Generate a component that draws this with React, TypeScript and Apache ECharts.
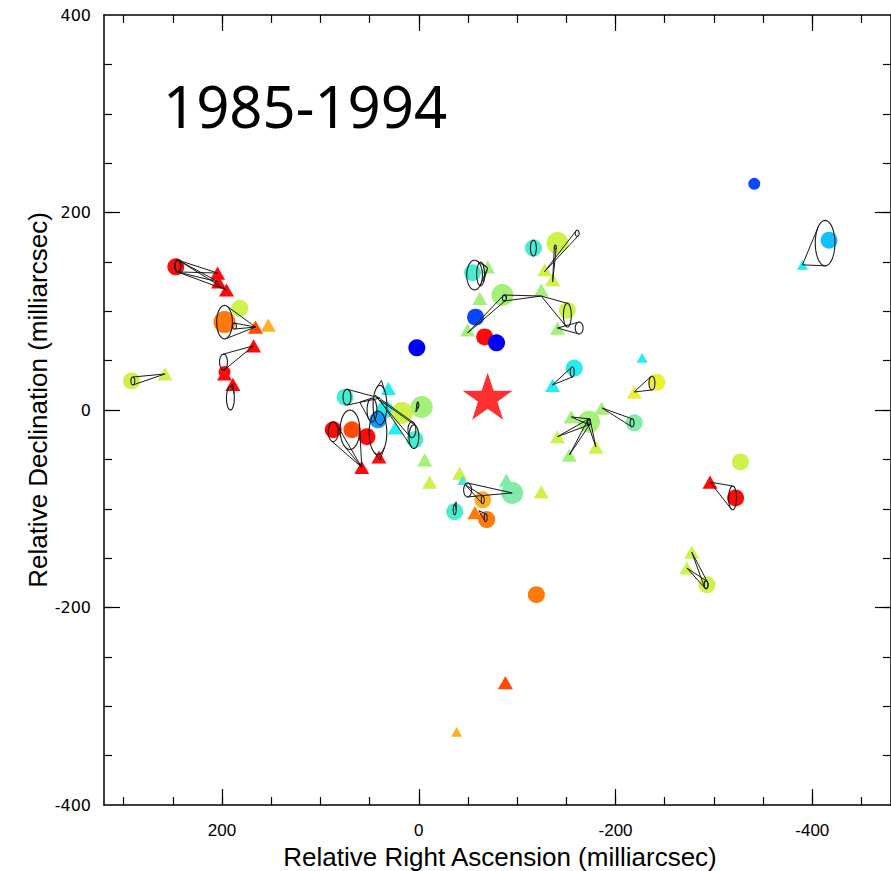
import React, { useEffect, useRef } from "react";
import * as echarts from "echarts";

// Velocity channel colours, from most blue-shifted (0) to most red-shifted (13)
const channelColors = [
  "#0000f5", "#0a46ff", "#0a9cff", "#12bfff", "#22eef0", "#48ecd0", "#80eca8",
  "#a4f07a", "#cdf24a", "#eaf034", "#ffae28", "#ff7a0a", "#ff4a00", "#ff0a0a",
];

// First-epoch maser spots: [RA offset, Dec offset (mas), velocity channel, intensity class]
const spotsFirst: number[][] = [
  [247, 145, 13, 2], [182, 103, 8, 2], [197.5, 89, 11, 3], [197.5, 38.5, 13, 1],
  [292, 29.4, 8, 2], [75, 13, 5, 2], [34.4, 0, 4, 2], [41.5, -10, 2, 2],
  [-3, 3, 7, 3], [17, -3, 8, 3], [87, -20, 13, 2], [68, -20, 12, 2],
  [52.7, -27, 13, 2], [4, -30, 5, 2],
  [-116.5, 164, 5, 2], [-141, 169, 8, 3], [-54.7, 139, 5, 2], [-85, 116.5, 7, 3],
  [-151, 101, 8, 2], [-57.7, 94, 1, 2], [-67, 74, 13, 2], [-79, 68, 0, 2],
  [2, 63, 0, 2], [-158, 42.5, 4, 2], [-242, 28, 9, 2], [-219, -13, 6, 2],
  [-173, -12, 7, 3], [-327, -52.6, 8, 2], [-322, -89, 13, 2], [-293, -177, 8, 2],
  [-95, -84, 6, 3], [-65, -91, 10, 2], [-36.5, -103, 5, 2], [-69, -111, 11, 2],
  [-119.5, -187, 11, 2], [-341, 229, 1, 1], [-417, 172, 3, 2],
];

// Second-epoch maser spots: [RA offset, Dec offset (mas), velocity channel, intensity class]
const spotsSecond: number[][] = [
  [204.6, 138.7, 13, 2], [203.6, 129.6, 13, 2], [195.5, 121.5, 13, 2],
  [166, 84, 12, 2], [153, 86, 10, 2], [168, 65, 13, 2], [189, 26, 13, 2],
  [197.5, 36.5, 13, 2], [258, 36.5, 8, 2], [31, 22, 4, 2], [24, -18, 4, 2],
  [-6, -50.6, 7, 2], [-11, -73, 8, 2], [58, -58, 13, 2], [40.5, -47.6, 13, 2],
  [-128, 142, 8, 2], [-136, 132, 8, 2], [-124.5, 121.5, 7, 2], [-70, 145, 7, 2],
  [-62, 113, 7, 2], [-49.6, 81, 7, 2], [-141, 83, 7, 2], [-136, 25, 4, 2],
  [-227, 52.7, 4, 1], [-219, 18, 9, 2], [-186, 2, 7, 2], [-155, -7, 7, 2],
  [-141, -27, 8, 2], [-153, -45.6, 7, 2], [-180, -37.5, 8, 2], [-296, -73, 13, 2],
  [-277.5, -144, 8, 2], [-272.5, -160, 8, 2], [-41.5, -64, 8, 2], [-44.6, -71, 5, 1],
  [-89, -71, 6, 2], [-124.5, -83, 8, 2], [-57, -104, 11, 2], [-88, -276, 12, 2],
  [-38.5, -326, 10, 1], [-390, 147, 4, 1],
];

// Proper-motion cones: [RA, Dec, error semi-axis RA, error semi-axis Dec, tip RA, tip Dec]
const motionCones: number[][] = [
  [245, 145.8, 3, 6, 204.6, 138.7], [245, 145.8, 3, 6, 203.6, 129.6], [245, 145.8, 3, 6, 195.5, 121.5],
  [197.5, 89, 8, 17, 166, 84], [187.4, 85, 2, 3, 166, 84], [198.5, 48.6, 4, 8, 168, 65],
  [191.5, 12, 4, 12, 189, 26], [290.7, 29.4, 2, 4, 258, 36.5],
  [73, 13, 4, 8, 39.5, 12], [39.5, 5, 7, 20, 38, 30], [5, -27, 5, 12, 39.5, 10],
  [7, -20, 4, 8, 44.6, 15], [70, -20, 10, 20, 58, -58], [87, -22, 5, 10, 58, -58],
  [41.5, -23, 9, 22, 39.5, -50.6], [47.6, 0, 5, 12, 60, 8],
  [-56.7, 136.7, 8, 15, -70, 143.8], [-62.8, 137.7, 4, 12, -70, 143.8],
  [-161, 179, 2, 3, -127.6, 139.8], [-138.8, 165, 1, 2, -136, 129.6],
  [-87, 113.4, 2, 3, -124.5, 115.4], [-151, 96, 4, 12, -124.5, 115.4],
  [-163, 83, 4, 6, -141, 83], [-87, 113.4, 2, 3, -49.6, 78],
  [-156, 38.5, 2, 5, -135.7, 25.3], [-237, 27.3, 3, 7, -218.8, 18.2],
  [-216.8, -13, 2, 4, -186.4, 2], [-173, -12, 1.5, 3, -155, -7],
  [-173, -12, 1.5, 3, -141, -27], [-173, -12, 1.5, 3, -153, -45.6],
  [-173, -12, 1.5, 3, -180, -37.5], [-319, -89, 4, 12, -296, -73],
  [-292, -177, 2, 4, -277.5, -144], [-292, -177, 2, 4, -272.5, -160],
  [-49.6, -81, 4, 7, -95, -84], [-65, -91, 1.5, 4, -47.6, -76],
  [-36.5, -101, 1.5, 5, -38, -93], [-68, -109, 1.5, 4, -61, -102],
  [-413, 169, 10, 23, -390, 147], [-116.5, 164, 3, 8, -116.5, 164],
  [1, 5, 1, 3, 3, -2],
];

// Position of the central star
const starPosition = [-70, 14];

// Axis ticks and labels
const raLabels = [-400, -200, 0, 200];
const raMinorTicks = [-450, -400, -350, -300, -250, -200, -150, -100, -50, 0, 50, 100, 150, 200, 250, 300];
const decLabels = [-400, -200, 0, 200, 400];
const decMinorTicks = [-350, -300, -250, -200, -150, -100, -50, 0, 50, 100, 150, 200, 250, 300, 350];
const decMajorTicks = [-200, 0, 200];

const circleSizes = [0, 12, 17, 22];
const triangleSizes = [0, 11, 15, 18];

const STAR_PATH =
  "path://M50,0 L61.8,35.1 L98.8,35.1 L68.9,56.9 L80.3,91.9 L50,70.3 L19.7,91.9 L31.1,56.9 L1.2,35.1 L38.2,35.1 Z";

const axisFont = "Liberation Sans";

function tickAxis(kind: "x" | "y", position: string, values: number[], length: number, withLine: boolean, labels?: number[]) {
  const base: any = {
    type: "value",
    position,
    min: kind === "x" ? -480 : -400,
    max: kind === "x" ? 320 : 400,
    inverse: kind === "x",
    splitLine: { show: false },
    axisLine: { show: withLine, onZero: false, lineStyle: { color: "#000", width: 1.5 } },
    axisTick: { show: true, inside: true, length, customValues: values, lineStyle: { color: "#000", width: 1.2 } },
    axisLabel: labels
      ? {
          show: true,
          customValues: labels,
          color: "#000",
          fontFamily: kind === "x" ? axisFont : "DejaVu Sans",
          fontSize: kind === "x" ? 17 : 16,
          margin: kind === "x" ? 17 : 13,
        }
      : { show: false },
  };
  return base;
}

export default function App() {
  const ref = useRef<HTMLDivElement>(null);

  useEffect(() => {
    if (!ref.current) return;
    const chart = echarts.init(ref.current, undefined, { renderer: "svg" });

    const option: any = {
      animation: false,
      backgroundColor: "#fff",
      grid: { left: 104, top: 15, width: 788, height: 790 },
      xAxis: [
        tickAxis("x", "bottom", raMinorTicks, 8, true, raLabels),
        tickAxis("x", "bottom", raLabels, 16, false),
        tickAxis("x", "top", raMinorTicks, 8, true),
        tickAxis("x", "top", raLabels, 16, false),
      ],
      yAxis: [
        tickAxis("y", "left", decMinorTicks, 8, true, decLabels),
        tickAxis("y", "left", decMajorTicks, 16, false),
        tickAxis("y", "right", decMinorTicks, 8, true),
        tickAxis("y", "right", decMajorTicks, 16, false),
      ],
      graphic: [
        {
          type: "text",
          left: 163,
          top: 76,
          style: { text: "1985-1994", fontFamily: "Noto Sans", fontSize: 58, fill: "#000" },
        },
        {
          type: "text",
          x: 500,
          y: 857,
          style: {
            text: "Relative Right Ascension (milliarcsec)",
            fontFamily: axisFont,
            fontSize: 26,
            fill: "#000",
            align: "center",
            verticalAlign: "middle",
          },
        },
        {
          type: "text",
          x: 38,
          y: 400,
          rotation: Math.PI / 2,
          style: {
            text: "Relative Declination (milliarcsec)",
            fontFamily: axisFont,
            fontSize: 26,
            fill: "#000",
            align: "center",
            verticalAlign: "middle",
          },
        },
      ],
      series: [
        {
          type: "scatter",
          name: "second epoch",
          xAxisIndex: 0,
          yAxisIndex: 0,
          symbol: "triangle",
          symbolSize: (v: number[]) => [triangleSizes[v[3]], triangleSizes[v[3]] * 0.88],
          itemStyle: { color: (p: any) => channelColors[p.data[2]], opacity: 1 },
          data: spotsSecond,
          z: 2,
        },
        {
          type: "scatter",
          name: "first epoch",
          xAxisIndex: 0,
          yAxisIndex: 0,
          symbol: "circle",
          symbolSize: (v: number[]) => circleSizes[v[3]],
          itemStyle: { color: (p: any) => channelColors[p.data[2]], opacity: 1 },
          data: spotsFirst,
          z: 3,
        },
        {
          type: "custom",
          name: "motion",
          xAxisIndex: 0,
          yAxisIndex: 0,
          z: 4,
          silent: true,
          encode: { x: [0, 4], y: [1, 5] },
          data: motionCones,
          renderItem: (_params: any, api: any) => {
            const c = api.coord([api.value(0), api.value(1)]);
            const s = api.size([api.value(2), api.value(3)]);
            const t = api.coord([api.value(4), api.value(5)]);
            const a = Math.max(Math.abs(s[0]), 0.8);
            const b = Math.max(Math.abs(s[1]), 0.8);
            const pts: number[][] = [];
            for (let i = 0; i <= 48; i++) {
              const th = (i / 48) * Math.PI * 2;
              pts.push([c[0] + a * Math.cos(th), c[1] + b * Math.sin(th)]);
            }
            const children: any[] = [
              { type: "polyline", shape: { points: pts }, style: { stroke: "#1a1a1a", lineWidth: 1.1, fill: null } },
            ];
            const ux = (t[0] - c[0]) / a;
            const uy = (t[1] - c[1]) / b;
            const d = Math.hypot(ux, uy);
            if (d > 1.05) {
              const th = Math.atan2(uy, ux);
              const al = Math.acos(1 / d);
              for (const sg of [1, -1]) {
                const px = c[0] + a * Math.cos(th + sg * al);
                const py = c[1] + b * Math.sin(th + sg * al);
                children.push({
                  type: "line",
                  shape: { x1: px, y1: py, x2: t[0], y2: t[1] },
                  style: { stroke: "#1a1a1a", lineWidth: 1 },
                });
              }
            }
            return { type: "group", children };
          },
        },
        {
          type: "scatter",
          name: "star",
          xAxisIndex: 0,
          yAxisIndex: 0,
          symbol: STAR_PATH,
          symbolSize: [50, 47],
          itemStyle: { color: "#ff3030", opacity: 1 },
          data: [starPosition],
          z: 5,
        },
      ],
    };

    chart.setOption(option);
    return () => chart.dispose();
  }, []);

  return (
    <div
      ref={ref}
      style={{ position: "absolute", left: 0, top: 0, width: 891, height: 871, background: "#fff" }}
    />
  );
}
